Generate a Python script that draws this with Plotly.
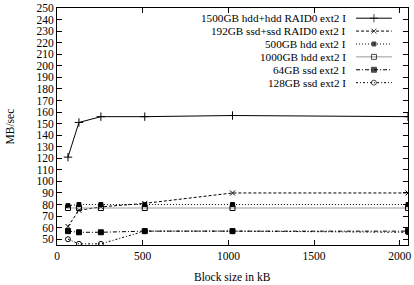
import plotly.graph_objects as go

block_sizes = [64, 128, 256, 512, 1024, 2048]
series_names = [
    "1500GB hdd+hdd RAID0 ext2 I",
    "192GB ssd+ssd RAID0 ext2 I",
    "500GB hdd ext2 I",
    "1000GB hdd ext2 I",
    "64GB ssd ext2 I",
    "128GB ssd ext2 I",
]
hdd_raid_1500 = [121, 151, 156, 156, 157, 156]
ssd_raid_192 = [61, 75, 78, 81, 90, 90]
hdd_500 = [79, 80, 80, 80, 80, 80]
hdd_1000 = [77, 77, 77, 77, 77, 77]
ssd_64 = [57, 56, 56, 57, 57, 57]
ssd_128 = [50, 46, 46, 57, 57, 56]
series_values = [hdd_raid_1500, ssd_raid_192, hdd_500, hdd_1000, ssd_64, ssd_128]
y_ticks = list(range(50, 251, 10))
x_ticks = [0, 500, 1000, 1500, 2000]
x_title = "Block size in kB"
y_title = "MB/sec"

styles = [
    dict(color="#000000", dash="solid", symbol="cross-thin", msize=6, mfill=None),
    dict(color="#000000", dash="3px,2px", symbol="x-thin", msize=5, mfill=None),
    dict(color="#000000", dash="1px,2px", symbol="square", msize=4, mfill="#000000"),
    dict(color="#999999", dash="solid", symbol="square-open", msize=5, mfill=None),
    dict(color="#000000", dash="4px,2px,1px,2px", symbol="square", msize=5, mfill="#000000"),
    dict(color="#000000", dash="2px,2px,1px,2px", symbol="circle-open", msize=5, mfill=None),
]

FONT = "Liberation Serif"
FS = 11.5
LFS = 11.2
fig = go.Figure()

for name, vals, st in zip(series_names, series_values, styles):
    marker = dict(symbol=st["symbol"], size=st["msize"], color=st["mfill"] or "#000000",
                  line=dict(color="#000000", width=1))
    fig.add_trace(go.Scatter(x=block_sizes, y=vals, mode="lines+markers", name=name,
                             line=dict(color=st["color"], width=1, dash=st["dash"]),
                             marker=marker, showlegend=False))

# Legend drawn gnuplot-style: text on the left, sample on the right
legend_x0, legend_x1 = 0.852, 0.954
row_top, row_step = 0.957, 0.0544
for i, (name, st) in enumerate(zip(series_names, styles)):
    yy = row_top - i * row_step
    marker = dict(symbol=st["symbol"], size=[0, st["msize"], 0], color=st["mfill"] or "#000000",
                  line=dict(color="#000000", width=1))
    fig.add_trace(go.Scatter(x=[legend_x0, (legend_x0 + legend_x1) / 2, legend_x1],
                             y=[yy, yy, yy], mode="lines+markers",
                             line=dict(color=st["color"], width=1, dash=st["dash"]),
                             marker=marker,
                             xaxis="x2", yaxis="y2", showlegend=False, hoverinfo="skip"))
    fig.add_annotation(x=0.829, y=yy, xref="paper", yref="paper", text=name,
                       showarrow=False, xanchor="right", yanchor="middle",
                       font=dict(family=FONT, size=LFS, color="#000000"))

# Axis titles placed like gnuplot's
fig.add_annotation(x=0.5, y=-0.135, xref="paper", yref="paper", text=x_title,
                   showarrow=False, xanchor="center", yanchor="middle",
                   font=dict(family=FONT, size=FS, color="#000000"))
fig.add_annotation(x=-0.134, y=0.5, xref="paper", yref="paper", text=y_title,
                   showarrow=False, xanchor="center", yanchor="middle", textangle=-90,
                   font=dict(family=FONT, size=FS, color="#000000"))

fig.update_layout(
    width=414, height=285,
    margin=dict(l=57, r=6, t=8, b=40),
    paper_bgcolor="white", plot_bgcolor="white",
    font=dict(family=FONT, size=FS, color="#000000"),
    xaxis=dict(range=[0, 2048], tickvals=x_ticks, automargin=False,
               ticks="inside", ticklen=5, tickcolor="#000000", mirror="ticks",
               showline=True, linecolor="#000000", linewidth=1, showgrid=False,
               zeroline=False),
    yaxis=dict(range=[45, 250], tickvals=y_ticks, automargin=False,
               ticks="inside", ticklen=5, tickcolor="#000000", mirror="ticks",
               showline=True, linecolor="#000000", linewidth=1, showgrid=False,
               zeroline=False),
    xaxis2=dict(range=[0, 1], overlaying="x", visible=False, anchor="y2"),
    yaxis2=dict(range=[0, 1], overlaying="y", visible=False, anchor="x2"),
)

fig.write_html("out.html")
